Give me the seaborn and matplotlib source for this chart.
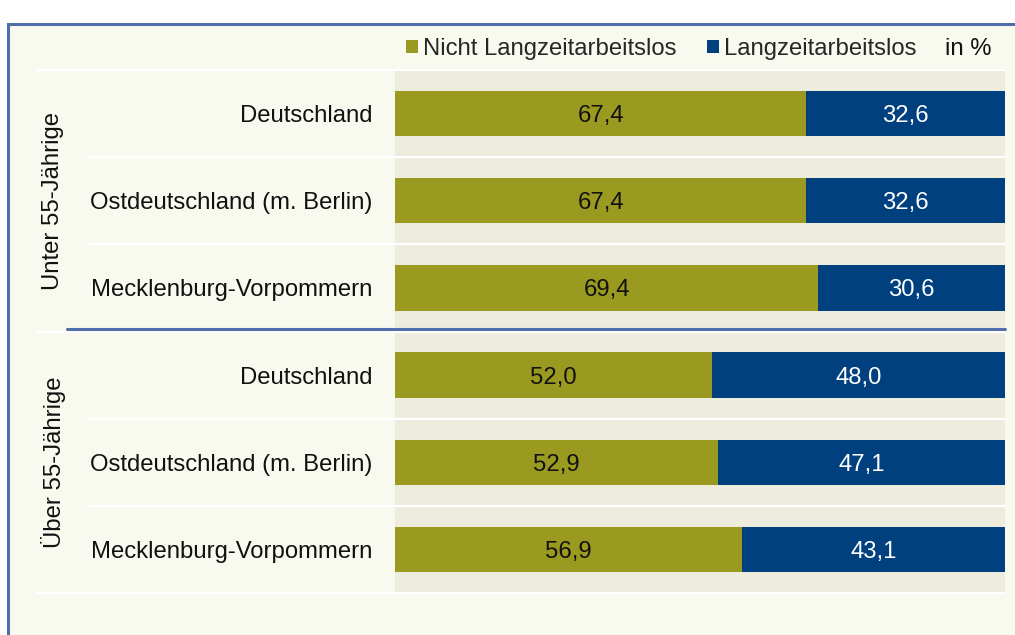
import pandas as pd
import seaborn as sns
import matplotlib.pyplot as plt
from matplotlib.patches import Patch, Rectangle

# data
groups = ['Unter 55-Jährige', 'Über 55-Jährige']
regions = ['Deutschland', 'Ostdeutschland (m. Berlin)', 'Mecklenburg-Vorpommern']
nicht_lzal = [67.4, 67.4, 69.4, 52.0, 52.9, 56.9]
lzal = [32.6, 32.6, 30.6, 48.0, 47.1, 43.1]
series_names = ['Nicht Langzeitarbeitslos', 'Langzeitarbeitslos']

olive = '#999a1f'
navy = '#00407e'
frame_bg = '#f8f9ef'
plot_bg = '#eeecdc'
frame_line = '#4f6eab'

rows = [g + '|' + r for g in groups for r in regions]
df = pd.DataFrame({'row': rows, 'nicht': nicht_lzal, 'lz': lzal})
df['total'] = df['nicht'] + df['lz']

sns.set_theme(style='white')
plt.rcParams['font.family'] = ['Liberation Sans', 'DejaVu Sans']
fs = 17.2

fig = plt.figure(figsize=(10.15, 6.35), dpi=100)
fig.patch.set_facecolor('white')
W, H = 1015, 635

# outer frame (runs off the right and bottom edge)
fig.patches.append(Rectangle((8 / W, -0.05), 1.1, 1.05 - 24 / H, transform=fig.transFigure,
                             facecolor=frame_bg, edgecolor=frame_line, linewidth=2.2,
                             zorder=-10))

ax = fig.add_axes([395 / W, (H - 593) / H, 610 / W, 523 / H])
ax.set_zorder(1)
ax.set_facecolor(plot_bg)

# stacked bars: total (blue) behind, olive part in front
sns.barplot(data=df, y='row', x='total', orient='h', color=navy, width=0.52,
            saturation=1, linewidth=0, ax=ax)
sns.barplot(data=df, y='row', x='nicht', orient='h', color=olive, width=0.52,
            saturation=1, linewidth=0, ax=ax)

ax.set_xlim(0, 100)
ax.set_ylim(5.5, -0.5)
ax.set_xlabel('')
ax.set_ylabel('')
ax.set_xticks([])
ax.set_yticks(range(len(rows)))
ax.set_yticklabels([r.split('|')[1] for r in rows], fontsize=fs, color='#111111')
ax.tick_params(axis='y', length=0, pad=16.5)
for s in ax.spines.values():
    s.set_visible(False)

# value labels
for i, (a, b) in enumerate(zip(nicht_lzal, lzal)):
    ax.text(a / 2, i, f'{a:.1f}'.replace('.', ','), ha='center', va='center_baseline',
            fontsize=fs, color='#111111')
    ax.text(a + b / 2, i, f'{b:.1f}'.replace('.', ','), ha='center', va='center_baseline',
            fontsize=fs, color='white')

# row separators
left_outer = (37 - 395) / 610
left_inner = (87 - 395) / 610
for y in [-0.5, 2.5, 5.5]:
    ax.axhline(y, xmin=left_outer, xmax=1, color='white', lw=1.6, clip_on=False, zorder=3)
for y in [0.5, 1.5, 3.5, 4.5]:
    ax.axhline(y, xmin=left_inner, xmax=1, color='white', lw=1.6, clip_on=False, zorder=3)
ax.axhline(2.47, xmin=(67 - 395) / 610, xmax=1, color=frame_line, lw=2.2,
           clip_on=False, zorder=4)

# group labels
for k, g in enumerate(groups):
    ax.text((53 - 395) / 610, 1 + 3 * k, g, rotation=90, ha='center', va='center',
            fontsize=fs, color='#111111', transform=ax.get_yaxis_transform())

# legend
handles = [Patch(facecolor=olive, edgecolor='none'), Patch(facecolor=navy, edgecolor='none')]
fig.legend(handles, series_names, loc='center left', bbox_to_anchor=(406 / W, 1 - 49 / H),
           ncol=2, frameon=False, fontsize=fs, handlelength=0.5, handleheight=0.5,
           handletextpad=0.2, columnspacing=1.3, borderpad=0, borderaxespad=0)
fig.text(945 / W, 1 - 49 / H, 'in %', ha='left', va='center', fontsize=fs, color='#111111')

fig.savefig('out.png', dpi=100, facecolor=fig.get_facecolor())
